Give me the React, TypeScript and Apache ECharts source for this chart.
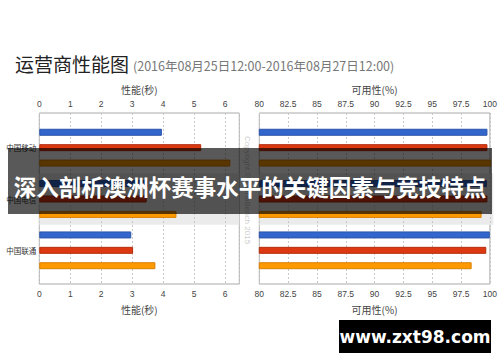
import React, { useEffect, useRef } from "react";
import * as echarts from "echarts";

const categories = ["中国移动", "中国电信", "中国联通"];
const perfBlue = [3.96, 3.5, 2.97];
const perfRed = [5.23, 3.47, 3.03];
const perfOrange = [6.17, 4.43, 3.75];
const availBlue = [99.5, 99.45, 99.7];
const availRed = [99.5, 99.5, 99.4];
const availOrange = [99.8, 99.0, 98.15];
const perfTitle = "性能(秒)";
const availTitle = "可用性(%)";
const colors = ["#3366cc", "#dc3912", "#ff9900"];
const borders = ["#2a55aa", "#b52e0e", "#d98200"];

const FONT = "'Noto Sans CJK SC', 'Noto Sans', sans-serif";

export default function App() {
  const ref = useRef<HTMLDivElement>(null);
  useEffect(() => {
    if (!ref.current) return;
    const chart = echarts.init(ref.current, undefined, { renderer: "svg" });
    const frameAxis = (grid: number, pos: "top" | "bottom", min: number, max: number, interval: number, name: string, split: boolean) => ({
      type: "value",
      gridIndex: grid,
      position: pos,
      min,
      max,
      interval,
      name,
      nameLocation: "middle",
      nameGap: pos === "top" ? 19 : 20,
      nameTextStyle: { fontSize: 10, color: "#444", fontFamily: FONT },
      axisLine: { show: false },
      axisTick: { show: false },
      axisLabel: { fontSize: 8.5, color: "#444", margin: 5, showMaxLabel: max === 100, fontFamily: "Arial, sans-serif" },
      splitLine: { show: split, lineStyle: { color: "#c8c8c8", type: [2, 2], width: 1 } },
    });
    const bar = (name: string, data: number[], i: number, xi: number, yi: number) => ({
      type: "bar",
      name,
      data,
      xAxisIndex: xi,
      yAxisIndex: yi,
      barWidth: 7,
      barGap: "120%",
      itemStyle: { color: colors[i], borderColor: borders[i], borderWidth: 1 },
    });
    chart.setOption({
      animation: false,
      backgroundColor: "#fff",
      grid: [
        { left: 39.3, top: 113, width: 200, height: 171, show: true, borderColor: "#aaa", borderWidth: 1, backgroundColor: "transparent" },
        { left: 259.3, top: 113, width: 234, height: 171, show: true, borderColor: "#aaa", borderWidth: 1, backgroundColor: "transparent" },
        { left: 39.3, top: 122, width: 200, height: 154 },
        { left: 259.3, top: 122, width: 234, height: 154 },
      ],
      xAxis: [
        frameAxis(0, "top", 0, 6.46, 1, perfTitle, true),
        frameAxis(0, "bottom", 0, 6.46, 1, perfTitle, false),
        { type: "value", gridIndex: 2, min: 0, max: 6.46, show: false },
        frameAxis(1, "top", 80, 100, 2.5, availTitle, true),
        frameAxis(1, "bottom", 80, 100, 2.5, availTitle, false),
        { type: "value", gridIndex: 3, min: 80, max: 100, show: false },
      ],
      yAxis: [
        { type: "value", gridIndex: 0, show: false },
        { type: "value", gridIndex: 1, show: false },
        {
          type: "category", gridIndex: 2, data: categories, inverse: true,
          axisLine: { show: false }, axisTick: { show: false },
          axisLabel: { fontSize: 7.5, color: "#333", margin: 3, fontFamily: FONT },
          splitArea: { show: true, areaStyle: { color: ["rgba(0,0,0,0)", "#ebebeb"] } },
        },
        {
          type: "category", gridIndex: 3, data: categories, inverse: true,
          axisLine: { show: false }, axisTick: { show: false }, axisLabel: { show: false },
          splitArea: { show: true, areaStyle: { color: ["rgba(0,0,0,0)", "#ebebeb"] } },
        },
      ],
      series: [
        bar("a", perfBlue, 0, 2, 2),
        bar("b", perfRed, 1, 2, 2),
        bar("c", perfOrange, 2, 2, 2),
        bar("d", availBlue, 0, 5, 3),
        bar("e", availRed, 1, 5, 3),
        bar("f", availOrange, 2, 5, 3),
      ],
      graphic: [
        { type: "text", x: 15, y: 63, z: 100, style: { text: "运营商性能图", fill: "#222", fontSize: 19, fontFamily: FONT, verticalAlign: "middle" } },
        { type: "text", x: 133, y: 65, z: 100, style: { text: "(2016年08月25日12:00-2016年08月27日12:00)", fill: "#777", fontSize: 12.5, fontFamily: FONT, verticalAlign: "middle" } },
        { type: "text", x: 247, y: 190, rotation: -Math.PI / 2, z: 50, style: { text: "Copyright © ChinaBench 2015", fill: "#ccc", fontSize: 8, fontFamily: "Arial, sans-serif", align: "center", verticalAlign: "middle" } },
        { type: "rect", z: 100, shape: { x: 8, y: 148, width: 484, height: 66 }, style: { fill: "rgba(0,0,0,0.65)" } },
        { type: "text", x: 250, y: 186, z: 101, style: { text: "深入剖析澳洲杯赛事水平的关键因素与竞技特点", fill: "#fff", fontSize: 22.5, fontWeight: "bold", fontFamily: FONT, align: "center", verticalAlign: "middle" } },
        { type: "rect", z: 100, shape: { x: 339, y: 320, width: 152, height: 33 }, style: { fill: "#000" } },
        { type: "text", x: 415, y: 337, z: 101, style: { text: "www.zxt98.com", fill: "#fff", fontSize: 17, fontWeight: "bold", fontFamily: "'DejaVu Sans', sans-serif", align: "center", verticalAlign: "middle" } },
      ],
    });
    return () => chart.dispose();
  }, []);
  return <div ref={ref} style={{ width: 500, height: 362, position: "absolute", left: 0, top: 0 }} />;
}
